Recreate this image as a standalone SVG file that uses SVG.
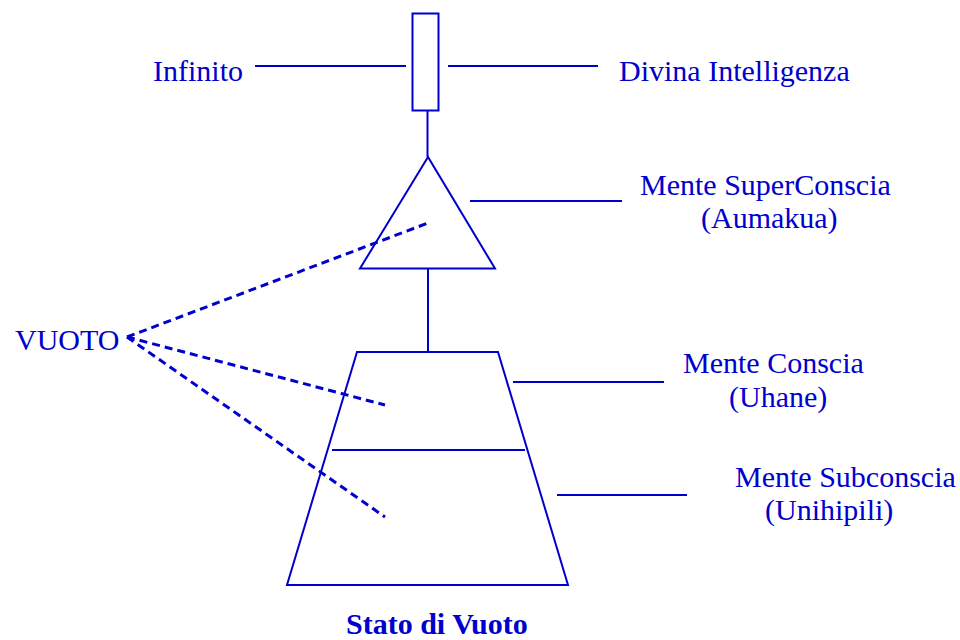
<svg xmlns="http://www.w3.org/2000/svg" width="960" height="640" viewBox="0 0 960 640">
<style>
.s{fill:none;stroke:#0000CC;stroke-width:2}
.d{fill:none;stroke:#0000CC;stroke-width:3;stroke-dasharray:8,5}
.t{font-family:"Liberation Serif","Times New Roman",serif;font-size:30px;fill:#0000CC}
.b{font-weight:bold;font-size:30px}
</style>
<rect width="960" height="640" fill="#fff"/>
<g id="infinito-box"><rect class="s" x="412.5" y="13.5" width="26" height="97"/></g>
<g id="superconscia"><polygon class="s" points="428,157 360,268.5 495,268.5"/></g>
<g id="trapezio"><polygon class="s" points="357,352 498,352 568,585 287,585"/><line class="s" x1="332" y1="450" x2="525" y2="450"/></g>
<g id="connectors">
<line class="s" x1="255" y1="66" x2="406" y2="66"/>
<line class="s" x1="448" y1="66" x2="598" y2="66"/>
<line class="s" x1="427.5" y1="110" x2="427.5" y2="157"/>
<line class="s" x1="428" y1="268" x2="428" y2="352"/>
<line class="s" x1="470" y1="201" x2="622" y2="201"/>
<line class="s" x1="513" y1="382" x2="664" y2="382"/>
<line class="s" x1="557" y1="495" x2="687" y2="495"/>
<line class="d" x1="127" y1="337" x2="428" y2="223"/>
<line class="d" x1="127" y1="337" x2="385" y2="405"/>
<line class="d" x1="127" y1="337" x2="385" y2="517"/>
</g>
<g id="labels">
<text class="t" x="153" y="81">Infinito</text>
<text class="t" x="619" y="81">Divina Intelligenza</text>
<text class="t" x="640" y="195">Mente SuperConscia</text>
<text class="t" x="701" y="228">(Aumakua)</text>
<text class="t" x="15" y="350">VUOTO</text>
<text class="t" x="683" y="373">Mente Conscia</text>
<text class="t" x="729" y="407">(Uhane)</text>
<text class="t" x="735" y="487">Mente Subconscia</text>
<text class="t" x="765" y="520">(Unihipili)</text>
<text class="t b" x="346" y="634">Stato di Vuoto</text>
</g>
</svg>
